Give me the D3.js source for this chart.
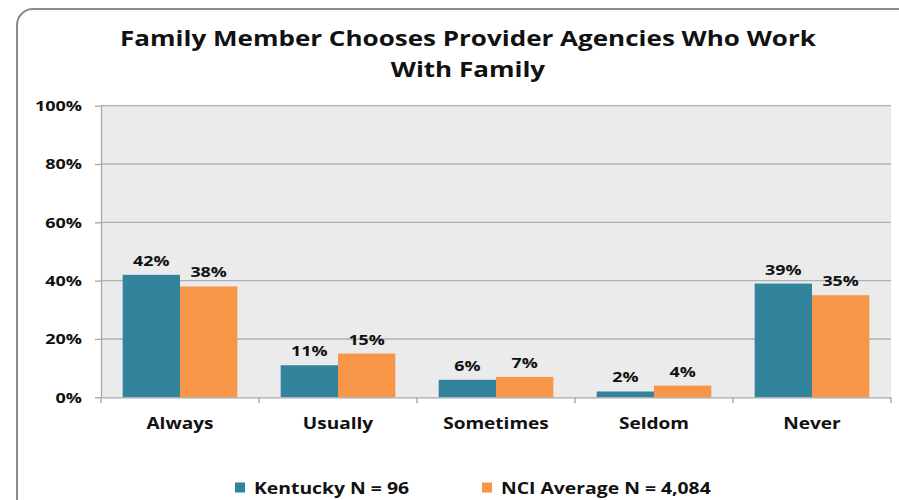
<!DOCTYPE html>
<html>
<head>
<meta charset="utf-8">
<script src="https://cdn.jsdelivr.net/npm/d3@7/dist/d3.min.js"></script>
<style>
  html, body { margin: 0; padding: 0; background: #ffffff; }
  svg { display: block; }
  text { font-family: "Open Sans", "DejaVu Sans", sans-serif; font-weight: bold; fill: #111; }
  /* wide lettering: stretch text horizontally around its anchor */
  .wide-t { transform-box: fill-box; transform-origin: center; transform: scaleX(1.21); }
  .wide-c { transform-box: fill-box; transform-origin: center; transform: scaleX(1.19); }
  .wide-r { transform-box: fill-box; transform-origin: right center; transform: scaleX(1.2); }
  .wide-l { transform-box: fill-box; transform-origin: left center; transform: scaleX(1.21); }
</style>
</head>
<body>
<script>
// Response categories and the two series compared
const categories = ["Always", "Usually", "Sometimes", "Seldom", "Never"];
const seriesNames = ["Kentucky N = 96", "NCI Average N = 4,084"];
const kentucky = [42, 11, 6, 2, 39];
const nciAverage = [38, 15, 7, 4, 35];
const yTicks = [0, 20, 40, 60, 80, 100];
const titleLines = ["Family Member Chooses Provider Agencies Who Work", "With Family"];

const colors = ["#31849b", "#f79646"];
const seriesValues = [kentucky, nciAverage];

const W = 899, H = 500;
const svg = d3.select("body").append("svg").attr("width", W).attr("height", H);

// Rounded outer frame (runs past the right and bottom edges)
svg.append("rect")
  .attr("x", 17).attr("y", 9)
  .attr("width", 920).attr("height", 520)
  .attr("rx", 16).attr("ry", 16)
  .attr("fill", "#ffffff")
  .attr("stroke", "#8c8c8c").attr("stroke-width", 2);

// Title, one text element per line
svg.append("g").selectAll("text").data(titleLines).join("text")
  .attr("class", "wide-t")
  .attr("x", 468).attr("y", (d, i) => 46 + i * 31)
  .attr("text-anchor", "middle")
  .style("font-size", "21.5px")
  .text(d => d);

const plot = { left: 101, right: 891, top: 105.7, bottom: 397.3 };

const x0 = d3.scaleBand().domain(categories).range([plot.left, plot.right]).padding(0);
const x1 = d3.scaleBand().domain(seriesNames).range([0, x0.bandwidth()])
  .paddingInner(0).paddingOuter(0.378);
const y = d3.scaleLinear().domain([0, 100]).range([plot.bottom, plot.top]);

// Plot background
svg.append("rect")
  .attr("x", plot.left).attr("y", plot.top)
  .attr("width", plot.right - plot.left).attr("height", plot.bottom - plot.top)
  .attr("fill", "#ebebeb");

// Gridlines
svg.append("g").selectAll("line").data(yTicks.filter(t => t > 0)).join("line")
  .attr("x1", plot.left).attr("x2", plot.right)
  .attr("y1", d => y(d)).attr("y2", d => y(d))
  .attr("stroke", "#b0b0b0").attr("stroke-width", 1.3);

// Y axis
const yAxis = svg.append("g")
  .attr("transform", `translate(${plot.left},0)`)
  .call(d3.axisLeft(y).tickValues(yTicks).tickFormat(d => d + "%").tickSize(6).tickSizeOuter(0));
yAxis.select(".domain").attr("stroke", "#a6a6a6").attr("stroke-width", 1.3);
yAxis.selectAll(".tick line").attr("stroke", "#a6a6a6").attr("stroke-width", 1.3);
yAxis.selectAll(".tick text")
  .attr("class", "wide-r")
  .attr("x", -19)
  .style("font-family", "'Open Sans', sans-serif")
  .style("font-weight", "bold")
  .style("font-size", "15px")
  .attr("fill", "#111");

// Bars
const groups = svg.append("g").selectAll("g").data(categories).join("g")
  .attr("transform", d => `translate(${x0(d)},0)`);

groups.selectAll("rect")
  .data((c, ci) => seriesNames.map((s, si) => ({ s, si, v: seriesValues[si][ci] })))
  .join("rect")
  .attr("x", d => x1(d.s))
  .attr("width", x1.bandwidth())
  .attr("y", d => y(d.v))
  .attr("height", d => y(0) - y(d.v))
  .attr("fill", d => colors[d.si]);

// Value labels
groups.selectAll("text")
  .data((c, ci) => seriesNames.map((s, si) => ({ s, si, v: seriesValues[si][ci] })))
  .join("text")
  .attr("class", "wide-c")
  .attr("x", d => x1(d.s) + x1.bandwidth() / 2)
  .attr("y", d => y(d.v) - 9)
  .attr("text-anchor", "middle")
  .style("font-size", "15px")
  .text(d => d.v + "%");

// X axis
const xAxis = svg.append("g")
  .attr("transform", `translate(0,${plot.bottom})`)
  .call(d3.axisBottom(x0).tickSize(0).tickSizeOuter(0));
xAxis.select(".domain").attr("stroke", "#a6a6a6").attr("stroke-width", 1.3);
xAxis.selectAll(".tick text")
  .attr("class", "wide-c")
  .attr("y", 20)
  .style("font-family", "'Open Sans', sans-serif")
  .style("font-weight", "bold")
  .style("font-size", "16px")
  .attr("fill", "#111");

// Category boundary ticks
const bounds = categories.map(c => x0(c)).concat([plot.right]);
svg.append("g").selectAll("line").data(bounds).join("line")
  .attr("x1", d => d).attr("x2", d => d)
  .attr("y1", plot.bottom).attr("y2", plot.bottom + 6)
  .attr("stroke", "#a6a6a6").attr("stroke-width", 1.3);

// Legend
const legendX = [235, 482];
const legend = svg.append("g").selectAll("g").data(seriesNames).join("g")
  .attr("transform", (d, i) => `translate(${legendX[i]},482.5)`);
legend.append("rect").attr("width", 10).attr("height", 10).attr("fill", (d, i) => colors[i]);
legend.append("text").attr("class", "wide-l").attr("x", 19).attr("y", 11)
  .style("font-size", "16px").text(d => d);
</script>
</body>
</html>
